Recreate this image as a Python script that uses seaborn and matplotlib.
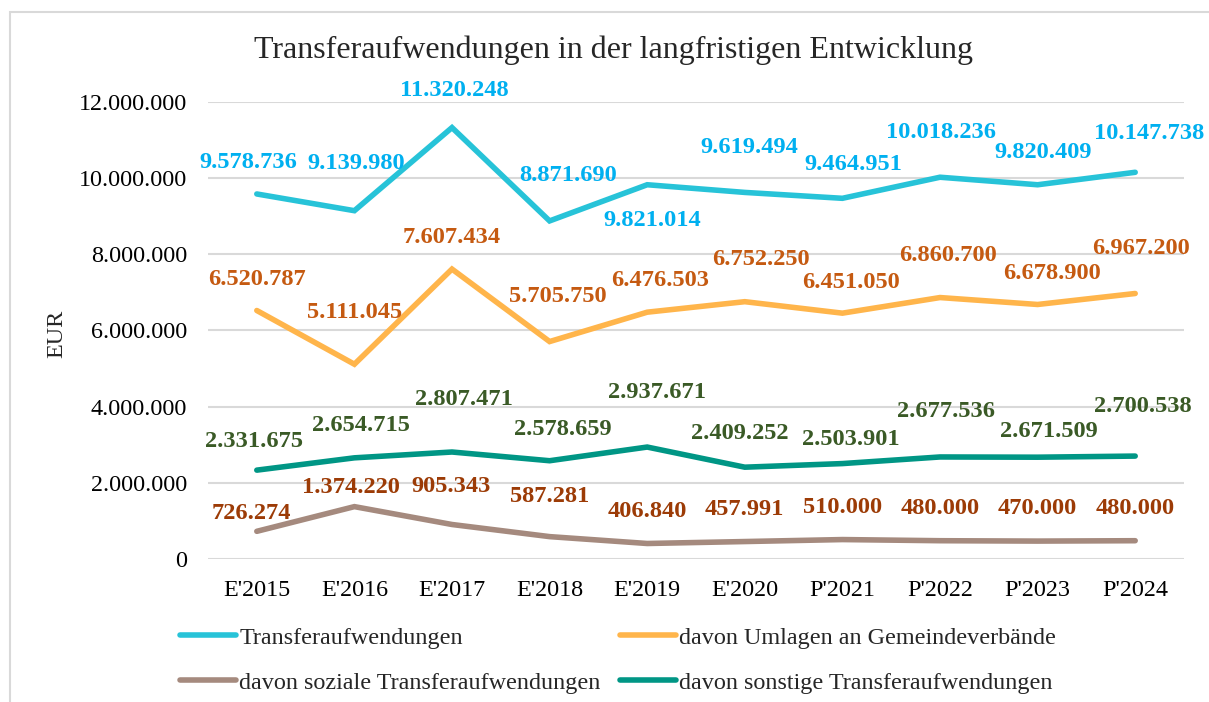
import pandas as pd
import numpy as np
import seaborn as sns
import matplotlib.pyplot as plt
from matplotlib.patches import Rectangle

# --- Daten ---
JAHRE = ["E'2015", "E'2016", "E'2017", "E'2018", "E'2019",
         "E'2020", "P'2021", "P'2022", "P'2023", "P'2024"]

TRANSFER = [9578736, 9139980, 11320248, 8871690, 9821014,
            9619494, 9464951, 10018236, 9820409, 10147738]
UMLAGEN = [6520787, 5111045, 7607434, 5705750, 6476503,
           6752250, 6451050, 6860700, 6678900, 6967200]
SOZIAL = [726274, 1374220, 905343, 587281, 406840,
          457991, 510000, 480000, 470000, 480000]
SONSTIGE = [2331675, 2654715, 2807471, 2578659, 2937671,
            2409252, 2503901, 2677536, 2671509, 2700538]

SERIEN = ["Transferaufwendungen",
          "davon Umlagen an Gemeindeverbände",
          "davon soziale Transferaufwendungen",
          "davon sonstige Transferaufwendungen"]

# Farben (Linie, Beschriftung)
LINIEN_FARBEN = ["#27C3D8", "#FFB54B", "#A58A7E", "#009685"]
LABEL_FARBEN = ["#00B0F0", "#C55A11", "#9C3B06", "#3A5A26"]

# Versatz der Datenbeschriftungen in Pixel (dx, dy nach oben positiv)
OFFSETS = [
    [(-8, 31), (2, 47), (2, 37), (19, 45), (5, -36),
     (5, 45), (11, 34), (1, 45), (6, 32), (14, 39)],
    [(0, 31), (0, 52), (0, 32), (8, 45), (13, 32),
     (16, 42), (9, 31), (8, 42), (14, 31), (6, 45)],
    [(-5, 18), (-3, 19), (-1, 38), (0, 40), (0, 32),
     (0, 32), (0, 32), (0, 32), (0, 33), (0, 32)],
    [(-3, 29), (7, 32), (12, 53), (13, 31), (10, 55),
     (-5, 34), (8, 24), (6, 45), (11, 26), (8, 50)],
]


def fmt_de(v):
    return f"{v:,.0f}".replace(",", ".")


df = pd.DataFrame({
    "jahr": JAHRE * 4,
    "pos": list(range(len(JAHRE))) * 4,
    "wert": TRANSFER + UMLAGEN + SOZIAL + SONSTIGE,
    "serie": [s for s in SERIEN for _ in JAHRE],
})

sns.set_style("white")
plt.rcParams["font.family"] = ["Liberation Serif", "DejaVu Serif"]

W, H = 1209, 702
fig = plt.figure(figsize=(W / 100, H / 100), dpi=100)
ax = fig.add_axes([208 / W, 1 - 559 / H, 976 / W, (559 - 101.7) / H])

# Rahmen um das Diagramm
fig.patches.append(Rectangle((10 / W, -0.05), 1.2, 1 - 12 / H + 0.05,
                             transform=fig.transFigure, fill=False,
                             edgecolor="#D9D9D9", linewidth=1.5))

sns.lineplot(data=df, x="pos", y="wert", hue="serie", hue_order=SERIEN,
             palette=LINIEN_FARBEN, linewidth=4.0, ax=ax, legend=False,
             sort=False)

for line in ax.get_lines():
    line.set_solid_capstyle("round")
    line.set_solid_joinstyle("miter")

# Datenbeschriftungen
for werte, farbe, offs in zip([TRANSFER, UMLAGEN, SOZIAL, SONSTIGE],
                              LABEL_FARBEN, OFFSETS):
    for i, v in enumerate(werte):
        ax.annotate(fmt_de(v), xy=(i, v), xytext=offs[i],
                    textcoords="offset pixels", ha="center", va="center",
                    fontsize=17.6, fontweight="bold", color=farbe)

ax.set_xlim(-0.5, len(JAHRE) - 0.5)
ax.set_ylim(0, 12000000)
ax.set_yticks(np.arange(0, 12000001, 2000000))
ax.yaxis.set_major_formatter(plt.FuncFormatter(lambda x, p: fmt_de(x)))
ax.set_xticks(range(len(JAHRE)))
ax.set_xticklabels(JAHRE)
ax.tick_params(axis="both", length=0, labelsize=17.4, colors="black")
ax.tick_params(axis="x", pad=15)
ax.tick_params(axis="y", pad=15)
ax.grid(axis="y", color="#D9D9D9", linewidth=1.5)
ax.set_axisbelow(True)
sns.despine(ax=ax, left=True, bottom=True)
ax.set_xlabel("")
ax.set_ylabel("")

fig.text(57 / W, 1 - 334 / H, "EUR", rotation=90, ha="center", va="center",
         fontsize=17.4)
fig.text(613 / W, 1 - 50 / H,
         "Transferaufwendungen in der langfristigen Entwicklung",
         ha="center", va="center", fontsize=23)

# Legende (2 Spalten)
handles = ax.get_lines()[:4]
reihenfolge = [0, 2, 1, 3]
leg = fig.legend([handles[i] for i in reihenfolge],
                 [SERIEN[i] for i in reihenfolge],
                 ncol=2, loc="upper left",
                 bbox_to_anchor=(180 / W, 1 - 627 / H),
                 frameon=False, fontsize=17.4, handlelength=2.3,
                 handletextpad=0.15, columnspacing=0.8,
                 labelspacing=0.95, borderpad=0, borderaxespad=0)

plt.savefig("out.png", dpi=100)
plt.close()
